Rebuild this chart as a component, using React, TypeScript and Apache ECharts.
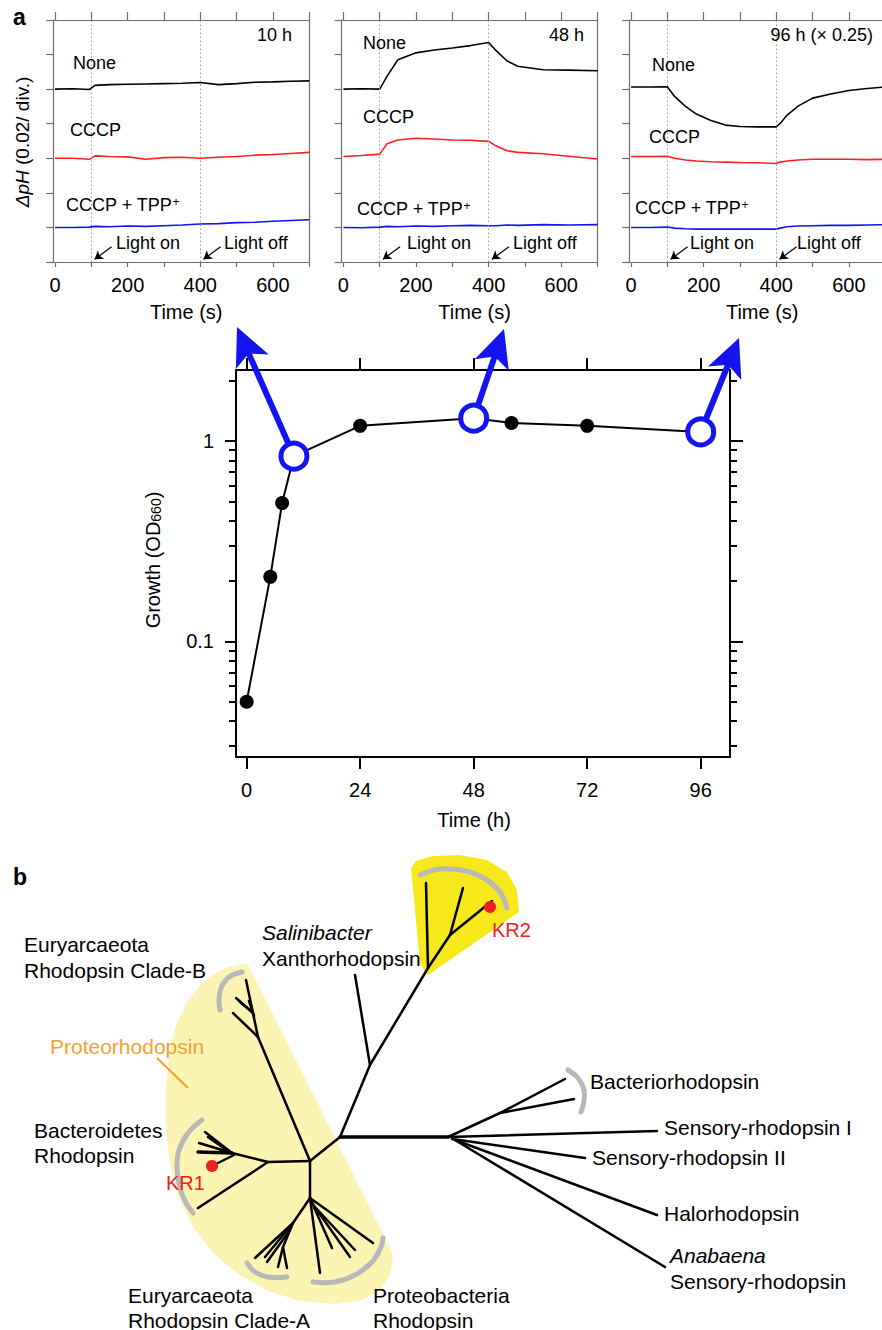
import React, { useEffect, useRef } from 'react';
import * as echarts from 'echarts';

const FONT = '"Liberation Sans", Arial, Helvetica, sans-serif';
const BLUE = '#1414f0';
const RED = '#ff1f1f';
const AX = '#6e6e6e';

// ---- panel a, top: ΔpH traces, values in divisions (0.02 ΔpH / div.) ----
const P1_T = [0, 50, 95, 110, 150, 200, 250, 300, 350, 400, 450, 500, 550, 600, 650, 700];
const P1_NONE = [5.0, 5.01, 4.99, 5.11, 5.13, 5.14, 5.15, 5.16, 5.17, 5.19, 5.13, 5.16, 5.2, 5.21, 5.23, 5.24];
const P1_CCCP = [3.0, 3.0, 2.97, 3.07, 3.05, 3.04, 2.97, 3.02, 3.03, 3.0, 3.03, 3.05, 3.09, 3.11, 3.14, 3.17];
const P1_TPP = [1.0, 1.0, 1.01, 1.03, 1.02, 1.04, 1.03, 1.05, 1.07, 1.1, 1.11, 1.14, 1.15, 1.18, 1.2, 1.22];

const P2_T = [0, 50, 100, 120, 150, 200, 250, 300, 350, 400, 420, 450, 480, 550, 620, 700];
const P2_NONE = [5.0, 5.01, 5.0, 5.37, 5.85, 6.05, 6.13, 6.19, 6.26, 6.35, 6.12, 5.82, 5.66, 5.56, 5.55, 5.53];
const P2_CCCP = [3.05, 3.08, 3.12, 3.42, 3.53, 3.58, 3.56, 3.53, 3.52, 3.49, 3.36, 3.22, 3.17, 3.13, 3.06, 2.98];
const P2_TPP = [1.0, 0.99, 1.01, 1.03, 1.02, 1.04, 1.03, 1.05, 1.06, 1.05, 1.05, 1.07, 1.06, 1.08, 1.07, 1.08];

const P3_T = [0, 50, 100, 120, 150, 180, 220, 260, 300, 350, 400, 410, 430, 460, 500, 550, 600, 650, 700];
const P3_NONE = [5.06, 5.06, 5.07, 4.79, 4.5, 4.28, 4.09, 3.96, 3.92, 3.91, 3.91, 4.0, 4.25, 4.51, 4.74, 4.86, 4.96, 5.02, 5.06];
const P3_CCCP = [3.05, 3.05, 3.06, 3.0, 2.95, 2.92, 2.9, 2.89, 2.88, 2.87, 2.85, 2.89, 2.92, 2.95, 2.97, 2.97, 2.97, 2.96, 2.97];
const P3_TPP = [1.0, 1.0, 1.01, 0.98, 0.96, 0.95, 0.95, 0.95, 0.95, 0.95, 0.95, 0.98, 1.02, 1.04, 1.05, 1.06, 1.06, 1.07, 1.08];

const PANEL_TIMES = [P1_T, P2_T, P3_T];
const PANEL_TRACES = [
  [P1_NONE, P1_CCCP, P1_TPP],
  [P2_NONE, P2_CCCP, P2_TPP],
  [P3_NONE, P3_CCCP, P3_TPP],
];
const PANEL_TITLES = ['10 h', '48 h', '96 h (\u00d7 0.25)'];
const TRACE_NAMES = ['None', 'CCCP', 'CCCP + TPP+'];
const TRACE_COLORS = ['#000000', RED, BLUE];
const LIGHT_TIMES = [100, 400];
const LIGHT_LABELS = ['Light on', 'Light off'];
const TIME_S_TICKS = [0, 100, 200, 300, 400, 500, 600, 700];
const TIME_S_LABELS = [0, 200, 400, 600];

// ---- panel a, bottom: growth curve ----
const GROWTH_HOURS = [0, 5, 7.5, 10, 24, 48, 56, 72, 96];
const GROWTH_OD = [0.05, 0.21, 0.49, 0.84, 1.19, 1.3, 1.23, 1.19, 1.11];
const SAMPLED_HOURS = [10, 48, 96];
const HOUR_TICKS = [0, 24, 48, 72, 96];
const OD_MAJOR = [0.1, 1];
const OD_MINOR = [0.03, 0.04, 0.05, 0.06, 0.07, 0.08, 0.09, 0.2, 0.3, 0.4, 0.5, 0.6, 0.7, 0.8, 0.9, 2];

// ---- layout (pixels) ----
const PANEL_LEFT = [53.2, 341.6, 629.2];
const PANEL_TEXT = [
  { none: [73, 63], cccp: [70, 130], tpp: [66, 205], title: [292, 35], on: [116, 243], off: [224, 243] },
  { none: [363, 43], cccp: [363, 117], tpp: [357, 209], title: [584, 35], on: [407, 243], off: [513, 243] },
  { none: [652, 65], cccp: [649, 137], tpp: [635, 208], title: [873, 35], on: [690, 243], off: [797, 243] },
];
const ARROW_TIPS = [[237, 327], [504, 329], [739, 338]];

// ---- panel b: rhodopsin tree drawing (pixels) ----
const PALE_CLADE = [[247, 963], [225, 968], [205, 980], [188, 1000], [176, 1025], [169, 1055], [166, 1090], [166, 1130], [170, 1165], [178, 1195], [192, 1225], [212, 1252], [238, 1274], [268, 1291], [300, 1301], [335, 1304], [362, 1300], [380, 1290], [390, 1275], [393, 1258], [391, 1250]];
const KR2_CLADE = [[411, 868], [416, 861], [433, 856], [460, 855], [487, 860], [507, 872], [517, 890], [519, 912], [428, 975], [420, 964]];
const TREE_BRANCHES = [
  [[340, 1137], [370, 1065], [428, 968]],
  [[370, 1065], [355, 975]],
  [[428, 968], [426, 883]],
  [[428, 968], [450, 935], [463, 888]],
  [[450, 935], [492, 901]],
  [[448, 1137], [500, 1113], [565, 1079]],
  [[500, 1113], [574, 1099]],
  [[448, 1137], [657, 1131]],
  [[452, 1139], [585, 1158]],
  [[455, 1140], [657, 1215]],
  [[455, 1140], [665, 1267]],
  [[340, 1137], [310, 1161]],
  [[310, 1161], [258, 1037], [246, 980]],
  [[258, 1037], [233, 1013]],
  [[252, 1012], [236, 998]],
  [[252, 1012], [240, 1002]],
  [[254, 1016], [249, 1001]],
  [[310, 1161], [268, 1162], [232, 1153]],
  [[268, 1162], [198, 1208]],
  [[232, 1153], [199, 1143]],
  [[232, 1153], [205, 1132]],
  [[225, 1149], [208, 1137]],
  [[234, 1155], [212, 1166]],
  [[310, 1161], [310, 1198]],
  [[310, 1198], [293, 1223], [255, 1258]],
  [[293, 1223], [265, 1257]],
  [[290, 1230], [267, 1262]],
  [[293, 1223], [283, 1247], [278, 1267]],
  [[283, 1247], [287, 1268]],
  [[310, 1198], [320, 1273]],
  [[310, 1198], [332, 1248]],
  [[312, 1203], [350, 1257]],
  [[315, 1207], [355, 1250]],
  [[310, 1198], [373, 1243]],
];
const THICK_BRANCHES = [
  [[340, 1137], [448, 1137]],
  [[232, 1153], [198, 1152]],
];
const BRACKETS = [
  [[242, 972], [229, 977], [221, 988], [219, 1000], [220, 1010]],
  [[202, 1120], [188, 1133], [179, 1150], [177, 1168], [180, 1188], [186, 1203], [193, 1213]],
  [[247, 1263], [255, 1272], [268, 1277], [287, 1277]],
  [[313, 1282], [335, 1282], [355, 1275], [372, 1262], [381, 1247], [383, 1238]],
  [[420, 875], [440, 869], [466, 871], [487, 880], [500, 892], [507, 908]],
  [[568, 1070], [578, 1078], [584, 1090], [584, 1101], [581, 1112]],
];
const KR_DOTS = [[212, 1166], [490, 907]];

function txt(text: string, x: number, y: number, o: any = {}) {
  const align = o.align || 'left';
  return {
    type: 'text',
    x,
    y,
    rotation: o.rotation || 0,
    z: 20,
    style: {
      text,
      fill: o.fill || '#000',
      fontSize: o.size || 18,
      fontFamily: FONT,
      fontStyle: o.italic ? 'italic' : 'normal',
      fontWeight: o.bold ? 'bold' : 'normal',
      align,
      verticalAlign: 'middle',
      textAlign: align,
      textVerticalAlign: 'middle',
      rich: o.rich,
    },
  };
}

export default function App() {
  const ref = useRef<HTMLDivElement>(null);
  useEffect(() => {
    if (!ref.current) return;
    const chart = echarts.init(ref.current, undefined, { renderer: 'svg' });

    const grids: any[] = [];
    const xAxes: any[] = [];
    const yAxes: any[] = [];
    const series: any[] = [];
    const elements: any[] = [];

    // top panels
    PANEL_LEFT.forEach((left) => {
      grids.push({ left, top: 20, width: 256, height: 242, containLabel: false, outerBoundsMode: 'none' });
    });
    PANEL_LEFT.forEach((_, i) => {
      xAxes.push({
        type: 'value', gridIndex: i, min: -5, max: 700, position: 'bottom',
        axisLine: { onZero: false, lineStyle: { color: AX, width: 1.2 } },
        axisTick: { customValues: TIME_S_TICKS, length: 5, lineStyle: { color: AX, width: 1.2 } },
        axisLabel: { customValues: TIME_S_LABELS, margin: 13, fontSize: 20, color: '#000', fontFamily: FONT },
        splitLine: { show: false },
        name: 'Time (s)', nameLocation: 'middle', nameGap: 40,
        nameTextStyle: { fontSize: 20, color: '#000', fontFamily: FONT, padding: [0, 0, 0, 10] },
      });
    });
    PANEL_LEFT.forEach((_, i) => {
      xAxes.push({
        type: 'value', gridIndex: i, min: -5, max: 700, position: 'top',
        axisLine: { onZero: false, lineStyle: { color: AX, width: 1.2 } },
        axisTick: { customValues: TIME_S_TICKS, length: 8, lineStyle: { color: AX, width: 1.2 } },
        axisLabel: { show: false }, splitLine: { show: false },
      });
    });
    PANEL_LEFT.forEach((_, i) => {
      yAxes.push({
        type: 'value', gridIndex: i, min: 0, max: 7, interval: 1, position: 'left',
        axisLine: { show: true, onZero: false, lineStyle: { color: AX, width: 1.2 } },
        axisTick: { show: true, length: 7, lineStyle: { color: AX, width: 1.2 } },
        axisLabel: { show: false }, splitLine: { show: false },
      });
    });
    PANEL_LEFT.forEach((_, i) => {
      yAxes.push({
        type: 'value', gridIndex: i, min: 0, max: 7, interval: 1, position: 'right',
        axisLine: { show: true, onZero: false, lineStyle: { color: AX, width: 1.2 } },
        axisTick: { show: false }, axisLabel: { show: false }, splitLine: { show: false },
      });
    });
    PANEL_LEFT.forEach((_, i) => {
      const T = PANEL_TIMES[i];
      PANEL_TRACES[i].forEach((vals, k) => {
        const s: any = {
          type: 'line', name: `${PANEL_TITLES[i]} ${TRACE_NAMES[k]}`,
          xAxisIndex: i, yAxisIndex: i,
          data: T.map((t, j) => [t, vals[j]]),
          showSymbol: false, symbol: 'none',
          lineStyle: { color: TRACE_COLORS[k], width: 1.6 },
          itemStyle: { color: TRACE_COLORS[k] },
          z: 3,
        };
        if (k === 0) {
          s.markLine = {
            silent: true, symbol: ['none', 'none'], label: { show: false },
            lineStyle: { type: [1.5, 2.5], color: '#9a9a9a', width: 1 },
            data: LIGHT_TIMES.map((t) => ({ xAxis: t })),
          };
        }
        if (k === 2) {
          s.markLine = {
            silent: true, symbol: ['none', 'arrow'], symbolSize: 8, label: { show: false },
            lineStyle: { type: 'solid', color: '#000', width: 1.2 },
            itemStyle: { color: '#000' },
            data: LIGHT_TIMES.map((t) => [{ coord: [t + 56, 0.44] }, { coord: [t + 9, 0.08] }]),
          };
        }
        series.push(s);
      });
      const L = PANEL_TEXT[i];
      elements.push(txt(TRACE_NAMES[0], L.none[0], L.none[1]));
      elements.push(txt(TRACE_NAMES[1], L.cccp[0], L.cccp[1]));
      elements.push(txt('{n|CCCP + TPP}{s|+}', L.tpp[0], L.tpp[1], {
        rich: { n: { fontSize: 18, fontFamily: FONT }, s: { fontSize: 12, fontFamily: FONT, verticalAlign: 'top' } },
      }));
      elements.push(txt(PANEL_TITLES[i], L.title[0], L.title[1], { align: 'right' }));
      elements.push(txt(LIGHT_LABELS[0], L.on[0], L.on[1]));
      elements.push(txt(LIGHT_LABELS[1], L.off[0], L.off[1]));
    });

    // growth grid
    grids.push({ left: 236, top: 370, width: 494, height: 387, containLabel: false, outerBoundsMode: 'none' });
    const G = 3;
    const blackAxis = { onZero: false, lineStyle: { color: '#000', width: 2 } };
    xAxes.push({
      type: 'value', gridIndex: G, min: -2.25, max: 102.2, position: 'bottom',
      axisLine: blackAxis,
      axisTick: { customValues: HOUR_TICKS, length: 12, lineStyle: { color: '#000', width: 2 } },
      axisLabel: { customValues: HOUR_TICKS, margin: 23, fontSize: 20, color: '#000', fontFamily: FONT },
      splitLine: { show: false },
      name: 'Time (h)', nameLocation: 'middle', nameGap: 53,
      nameTextStyle: { fontSize: 20, color: '#000', fontFamily: FONT, padding: [0, 18, 0, 0] },
    });
    xAxes.push({
      type: 'value', gridIndex: G, min: -2.25, max: 102.2, position: 'top',
      axisLine: blackAxis,
      axisTick: { customValues: HOUR_TICKS, length: 12, lineStyle: { color: '#000', width: 2 } },
      axisLabel: { show: false }, splitLine: { show: false },
    });
    const logBase = { type: 'log', gridIndex: G, min: 0.0265, max: 2.26, splitLine: { show: false } };
    yAxes.push({
      ...logBase, position: 'left', axisLine: blackAxis,
      axisTick: { customValues: OD_MAJOR, length: 11, lineStyle: { color: '#000', width: 2 } },
      axisLabel: { customValues: OD_MAJOR, margin: 22, fontSize: 20, color: '#000', fontFamily: FONT, formatter: (v: number) => String(v) },
    });
    yAxes.push({
      ...logBase, position: 'left', axisLine: { show: false, onZero: false },
      axisTick: { customValues: OD_MINOR, length: 7, lineStyle: { color: '#000', width: 2 } },
      axisLabel: { show: false },
    });
    yAxes.push({
      ...logBase, position: 'right', axisLine: blackAxis,
      axisTick: { customValues: OD_MAJOR, length: 13, lineStyle: { color: '#000', width: 2 } },
      axisLabel: { show: false },
    });
    yAxes.push({
      ...logBase, position: 'right', axisLine: { show: false, onZero: false },
      axisTick: { customValues: OD_MINOR, length: 7, lineStyle: { color: '#000', width: 2 } },
      axisLabel: { show: false },
    });
    const gx = 6, gy = 6;
    const sampled = GROWTH_HOURS.map((h, i) => [h, GROWTH_OD[i]]).filter((p) => SAMPLED_HOURS.includes(p[0]));
    series.push({
      type: 'line', name: 'Growth', xAxisIndex: gx, yAxisIndex: gy,
      data: GROWTH_HOURS.map((h, i) =>
        SAMPLED_HOURS.includes(h) ? { value: [h, GROWTH_OD[i]], symbol: 'none' } : [h, GROWTH_OD[i]]),
      symbol: 'circle', symbolSize: 14, showSymbol: true,
      itemStyle: { color: '#000' }, lineStyle: { color: '#000', width: 2 }, z: 3,
    });
    series.push({
      type: 'custom', name: 'arrows', xAxisIndex: gx, yAxisIndex: gy, data: sampled, clip: false, z: 4,
      renderItem: (params: any, api: any) => {
        const c = api.coord([api.value(0), api.value(1)]);
        const tip = ARROW_TIPS[params.dataIndex];
        const dx = tip[0] - c[0], dy = tip[1] - c[1];
        const len = Math.hypot(dx, dy);
        const ux = dx / len, uy = dy / len, px = -uy, py = ux;
        return {
          type: 'group',
          children: [
            { type: 'line', shape: { x1: c[0], y1: c[1], x2: tip[0] - ux * 28, y2: tip[1] - uy * 28 }, style: { stroke: BLUE, lineWidth: 6 } },
            {
              type: 'polygon',
              shape: { points: [
                [tip[0], tip[1]],
                [tip[0] - ux * 38 + px * 18, tip[1] - uy * 38 + py * 18],
                [tip[0] - ux * 29, tip[1] - uy * 29],
                [tip[0] - ux * 38 - px * 18, tip[1] - uy * 38 - py * 18],
              ] },
              style: { fill: BLUE },
            },
          ],
        };
      },
    });
    series.push({
      type: 'scatter', name: 'sampled', xAxisIndex: gx, yAxisIndex: gy, data: sampled,
      symbol: 'circle', symbolSize: 26, itemStyle: { color: '#fff', borderColor: BLUE, borderWidth: 5, opacity: 1 }, z: 5,
    });

    // labels panel a
    elements.push(txt('a', 13, 17, { bold: true, size: 23 }));
    elements.push(txt('{i|\u0394pH} (0.02/ div.)', 22, 142, {
      align: 'center', size: 19, rotation: Math.PI / 2,
      rich: { i: { fontStyle: 'italic', fontSize: 19, fontFamily: FONT } },
    }));
    elements.push(txt('{a|Growth (OD}{b|660}{a|)}', 153, 560, {
      align: 'center', size: 20, rotation: Math.PI / 2,
      rich: { a: { fontSize: 20, fontFamily: FONT }, b: { fontSize: 14, fontFamily: FONT, verticalAlign: 'bottom' } },
    }));

    // panel b tree
    elements.push(txt('b', 13, 877, { bold: true, size: 23 }));
    elements.push({ type: 'polygon', z: 1, shape: { points: PALE_CLADE }, style: { fill: '#fbf4b2' } });
    elements.push({ type: 'polygon', z: 1, shape: { points: KR2_CLADE }, style: { fill: '#f6e81a' } });
    BRACKETS.forEach((pts) => elements.push({
      type: 'polyline', z: 2, shape: { points: pts, smooth: 0.4 },
      style: { stroke: '#b8b8b8', lineWidth: 5, lineCap: 'round', fill: null },
    }));
    TREE_BRANCHES.forEach((pts) => elements.push({
      type: 'polyline', z: 3, shape: { points: pts },
      style: { stroke: '#000', lineWidth: 2.5, lineJoin: 'round', lineCap: 'round', fill: null },
    }));
    THICK_BRANCHES.forEach((pts) => elements.push({
      type: 'polyline', z: 3, shape: { points: pts },
      style: { stroke: '#000', lineWidth: 3.4, lineCap: 'round', fill: null },
    }));
    KR_DOTS.forEach((p) => elements.push({ type: 'circle', z: 4, shape: { cx: p[0], cy: p[1], r: 6 }, style: { fill: '#f02020' } }));
    elements.push({ type: 'line', z: 3, shape: { x1: 157, y1: 1058, x2: 188, y2: 1088 }, style: { stroke: '#f5a033', lineWidth: 2 } });

    const T = 21;
    elements.push(txt('Euryarcaeota', 24, 944, { size: T }));
    elements.push(txt('Rhodopsin Clade-B', 24, 970, { size: T }));
    elements.push(txt('Salinibacter', 262, 932, { size: T, italic: true }));
    elements.push(txt('Xanthorhodopsin', 262, 958, { size: T }));
    elements.push(txt('Proteorhodopsin', 50, 1046, { size: T, fill: '#f5a033' }));
    elements.push(txt('Bacteroidetes', 34, 1130, { size: T }));
    elements.push(txt('Rhodopsin', 34, 1155, { size: T }));
    elements.push(txt('KR1', 166, 1183, { size: 20, fill: '#f02020' }));
    elements.push(txt('KR2', 492, 930, { size: 20, fill: '#f02020' }));
    elements.push(txt('Euryarcaeota', 128, 1295, { size: T }));
    elements.push(txt('Rhodopsin Clade-A', 128, 1320, { size: T }));
    elements.push(txt('Proteobacteria', 373, 1295, { size: T }));
    elements.push(txt('Rhodopsin', 373, 1320, { size: T }));
    elements.push(txt('Bacteriorhodopsin', 590, 1081, { size: T }));
    elements.push(txt('Sensory-rhodopsin I', 664, 1127, { size: T }));
    elements.push(txt('Sensory-rhodopsin II', 592, 1157, { size: T }));
    elements.push(txt('Halorhodopsin', 664, 1213, { size: T }));
    elements.push(txt('Anabaena', 670, 1255, { size: T, italic: true }));
    elements.push(txt('Sensory-rhodopsin', 670, 1281, { size: T }));

    chart.setOption({
      animation: false,
      backgroundColor: '#ffffff',
      textStyle: { fontFamily: FONT },
      grid: grids,
      xAxis: xAxes,
      yAxis: yAxes,
      series,
      graphic: { elements },
    });
    return () => chart.dispose();
  }, []);
  return (
    <div
      ref={ref}
      style={{ position: 'absolute', left: 0, top: 0, width: 882, height: 1330, background: '#fff' }}
    />
  );
}
